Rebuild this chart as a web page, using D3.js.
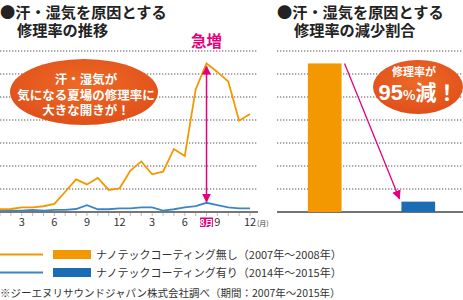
<!DOCTYPE html>
<html><head><meta charset="utf-8">
<script src="https://cdn.jsdelivr.net/npm/d3@7"></script>
<style>
body{margin:0;background:#fff;}
svg{display:block;font-family:"Noto Sans CJK JP","Noto Sans",sans-serif;}
</style></head>
<body><svg id="c" width="463" height="300"></svg>
<script>
const months = d3.range(1, 25);
const tickMonths = [3, 6, 9, 12, 15, 18, 21, 24];
const tickLabels = ["3", "6", "9", "12", "3", "6", "9", "12"];
const seriesNames = ["ナノテックコーティング無し（2007年～2008年）", "ナノテックコーティング有り（2014年～2015年）"];
const withoutCoating = [0.12,0.13,0.2,0.2,0.25,0.35,0.88,1.42,1.2,1.48,0.96,1.03,1.8,2.2,1.64,1.75,2.74,2.43,5.33,6.46,6.09,5.67,3.97,4.26];
const withCoating = [0.06,0.06,0.06,0.09,0.06,0.09,0.09,0.13,0.3,0.12,0.12,0.16,0.16,0.2,0.2,0.06,0.12,0.2,0.26,0.4,0.3,0.2,0.16,0.16];
const barCats = ["無し", "有り"];
const barValues = [6.46, 0.45];
const gridValues = [1,2,3,4,5,6,7];

const ORANGE = "#f39800", BLUE_LINE = "#3b87c6", BLUE_BAR = "#1a6db5", PINK = "#e4007f", TXT = "#333";
const svg = d3.select("#c");

const defs = svg.append("defs");
defs.append("marker").attr("id", "ah").attr("viewBox","0 0 10 10").attr("refX",9).attr("refY",5)
  .attr("orient","auto-start-reverse").attr("markerUnits","userSpaceOnUse")
  .attr("markerWidth",9).attr("markerHeight",10)
  .append("path").attr("d","M0,0 L10,5 L0,10 z").attr("fill",PINK);

const y = d3.scaleLinear().domain([0, 7]).range([212, 51]);
const x = d3.scaleLinear().domain([1, 24]).range([0, 250]);

// Titles
function title(tx, lines){
  svg.append("text").attr("x",tx).attr("y",17.5).attr("font-size",15.2).attr("font-weight","bold").attr("fill","#222").text(lines[0]);
  svg.append("text").attr("x",tx+17).attr("y",36).attr("font-size",15.2).attr("font-weight","bold").attr("fill","#222").text(lines[1]);
}
title(0, ["●汗・湿気を原因とする","修理率の推移"]);
title(277, ["●汗・湿気を原因とする","修理率の減少割合"]);

// left grid
svg.append("g").selectAll("line").data(gridValues).join("line")
  .attr("x1",0).attr("x2",258).attr("y1",d=>y(d)).attr("y2",d=>y(d))
  .attr("stroke","#555").attr("stroke-width",1.2).attr("stroke-dasharray","1.3,1.7");
// right grid
svg.append("g").selectAll("line").data(gridValues).join("line")
  .attr("x1",277).attr("x2",463).attr("y1",d=>y(d)).attr("y2",d=>y(d))
  .attr("stroke","#555").attr("stroke-width",1.2).attr("stroke-dasharray","1.3,1.7");

// left axis
const ax = svg.append("g").attr("transform","translate(0,212)");
ax.append("line").attr("x1",0).attr("x2",258).attr("stroke","#777").attr("stroke-width",2);
ax.selectAll("line.t").data(months).join("line").attr("class","t")
  .attr("x1",d=>x(d)).attr("x2",d=>x(d)).attr("y1",1).attr("y2",4).attr("stroke","#bbb").attr("stroke-width",1);
ax.selectAll("text.l").data(tickMonths).join("text").attr("class","l")
  .attr("x",d=>x(d)).attr("y",14).attr("text-anchor","middle").attr("font-size",11).attr("fill",TXT)
  .text((d,i)=>tickLabels[i]);
ax.append("text").attr("x",x(24)+7).attr("y",13.5).attr("font-size",7).attr("fill",TXT).text("(月)");
// 8月 badge
ax.append("rect").attr("x",x(20)-6.5).attr("y",5.5).attr("width",13).attr("height",9.5).attr("fill",PINK);
ax.append("text").attr("x",x(20)).attr("y",13.5).attr("text-anchor","middle").attr("font-size",8.5).attr("font-weight","bold").attr("fill","#fff").text("8月");

// right baseline
svg.append("line").attr("x1",277).attr("x2",463).attr("y1",212).attr("y2",212).attr("stroke","#444").attr("stroke-width",1.5);

// lines
const line = d3.line().x((d,i)=>x(months[i])).y(d=>y(d));
svg.append("path").datum(withCoating).attr("d",line).attr("fill","none").attr("stroke",BLUE_LINE).attr("stroke-width",1.8);
svg.append("path").datum(withoutCoating).attr("d",line).attr("fill","none").attr("stroke",ORANGE).attr("stroke-width",1.8);

// bars
const xb = d3.scaleBand().domain(barCats).range([277, 466]).paddingInner(0.64).paddingOuter(0.33);
svg.append("g").selectAll("rect").data(barValues).join("rect")
  .attr("x",(d,i)=>xb(barCats[i])).attr("width",xb.bandwidth())
  .attr("y",d=>y(d)).attr("height",d=>y(0)-y(d))
  .attr("fill",(d,i)=>i===0?ORANGE:BLUE_BAR);

// pink arrows
svg.append("line").attr("x1",x(20)).attr("x2",x(20)).attr("y1",y(withoutCoating[19])+3).attr("y2",y(withCoating[19])-1)
  .attr("stroke",PINK).attr("stroke-width",1.5).attr("marker-start","url(#ah)").attr("marker-end","url(#ah)");
svg.append("line").attr("x1",xb(barCats[0])+xb.bandwidth()+3).attr("y1",y(barValues[0]))
  .attr("x2",xb(barCats[1])-2).attr("y2",y(barValues[1])-3)
  .attr("stroke",PINK).attr("stroke-width",1.3).attr("marker-end","url(#ah)");
svg.append("text").attr("x",x(20)).attr("y",47).attr("text-anchor","middle").attr("font-size",15.5).attr("font-weight","bold").attr("fill",PINK).text("急増");

// callouts
const grad = defs.append("radialGradient").attr("id","eg").attr("cx","50%").attr("cy","40%").attr("r","60%");
grad.append("stop").attr("offset","0%").attr("stop-color","#ee6a26");
grad.append("stop").attr("offset","100%").attr("stop-color","#e0501a");
svg.append("ellipse").attr("cx",84).attr("cy",92).attr("rx",74).attr("ry",33).attr("fill","url(#eg)");
[["汗・湿気が",84],["気になる夏場の修理率に",99.5],["大きな開きが！",115]].forEach(([t,yy])=>
  svg.append("text").attr("x",86).attr("y",yy).attr("text-anchor","middle").attr("font-size",12.5).attr("font-weight","bold").attr("fill","#fff").text(t));

svg.append("ellipse").attr("cx",418).attr("cy",87).attr("rx",45).attr("ry",27).attr("fill","url(#eg)");
svg.append("text").attr("x",414).attr("y",76).attr("text-anchor","middle").attr("font-size",11).attr("font-weight","bold").attr("fill","#fff").text("修理率が");
const big = svg.append("text").attr("x",418).attr("y",99.5).attr("text-anchor","middle").attr("font-weight","bold").attr("fill","#fff");
big.append("tspan").attr("font-size",22).attr("font-family","'Liberation Sans',Arial,sans-serif").text("95");
big.append("tspan").attr("font-size",13).text("%");
big.append("tspan").attr("font-size",21).text("減！");

// legend
[[ORANGE, ORANGE, 254.5],[BLUE_LINE, BLUE_BAR, 272.5]].forEach(([lc, bc, yy], i)=>{
  svg.append("line").attr("x1",0).attr("x2",43).attr("y1",yy).attr("y2",yy).attr("stroke",lc).attr("stroke-width",1.8);
  svg.append("rect").attr("x",53).attr("y",yy-4.5).attr("width",38).attr("height",9).attr("fill",bc);
  svg.append("text").attr("x",96).attr("y",yy+4).attr("font-size",11).attr("fill",TXT).text(seriesNames[i]);
});
svg.append("text").attr("x",0).attr("y",297).attr("font-size",10.5).attr("fill",TXT).text("※ジーエヌリサウンドジャパン株式会社調べ（期間：2007年～2015年）");
</script></body></html>
